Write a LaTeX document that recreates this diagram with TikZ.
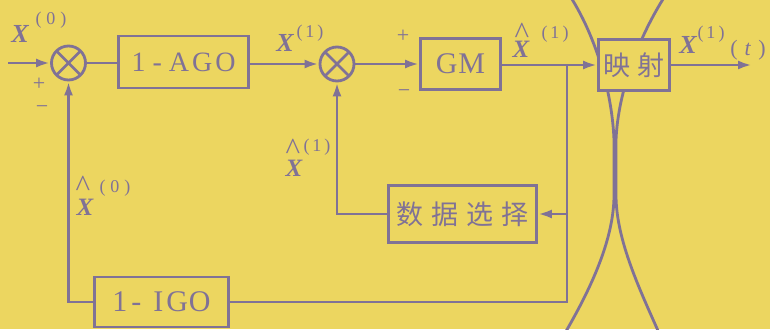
\documentclass[tikz,border=0pt]{standalone}
\usepackage{fontspec}
\setmainfont{Liberation Serif}
\newfontfamily\cjk{Noto Sans CJK SC}
\usetikzlibrary{arrows.meta}
\definecolor{bg}{RGB}{236,214,96}
\definecolor{ink}{RGB}{128,114,150}
\newcommand{\fX}{\fontsize{26}{26}\selectfont\bfseries\itshape}
\newcommand{\fHX}{\fontsize{25}{25}\selectfont\bfseries\itshape}
\newcommand{\fS}{\fontsize{18}{18}\selectfont}
\newcommand{\fH}{\fontsize{31}{31}\selectfont}
\newcommand{\fSign}{\fontsize{22}{22}\selectfont}
\begin{document}
\begin{tikzpicture}[x=1pt,y=-1pt,
  ln/.style={draw=ink,line width=2.8pt},
  arr/.style={ln,-{Latex[length=14pt,width=9pt]}},
  blk/.style={ln,fill=bg,rectangle,inner sep=0pt,text=ink},
  sumn/.style={ln,circle,fill=bg,minimum size=34pt,inner sep=0pt,
    path picture={\draw[ink,line width=2.6pt]
      (path picture bounding box.north west)--(path picture bounding box.south east)
      (path picture bounding box.north east)--(path picture bounding box.south west);}},
  lab/.style={text=ink,inner sep=0pt}]
\useasboundingbox (0,0) rectangle (770,329);
\fill[bg] (0,0) rectangle (770,329);
% hourglass curves behind the mapping block
\draw[ln] (570,-4) .. controls (595,35) and (612,90) .. (614,140) -- (614,195)
          .. controls (614,240) and (590,290) .. (565,333);
\draw[ln] (665,-4) .. controls (640,35) and (618,90) .. (616,140) -- (616,195)
          .. controls (616,240) and (640,290) .. (659,333);
% blocks
\node[sumn] (s1) at (68.5,63) {};
\node[blk,minimum width=130pt,minimum height=52pt,font=\fontsize{28}{28}\selectfont]
  (ago) at (183.5,62) {1\kern7pt-\kern7pt A\kern3pt G\kern3pt O};
\node[sumn] (s2) at (337,64) {};
\node[blk,minimum width=80pt,minimum height=51pt,font=\fontsize{30}{30}\selectfont]
  (gm) at (460.5,64) {G\kern1pt M};
\node[blk,minimum width=71pt,minimum height=51pt,font=\cjk\fontsize{27}{27}\selectfont]
  (map) at (634,65) {映\kern7pt 射};
\node[blk,minimum width=148pt,minimum height=57pt,font=\cjk\fontsize{27}{27}\selectfont]
  (ds) at (462.5,214) {数\kern8pt 据\kern8pt 选\kern8pt 择};
\node[blk,minimum width=134pt,minimum height=50pt,font=\fontsize{30}{30}\selectfont]
  (igo) at (161.5,302) {1\kern4pt-\kern12pt I\kern3pt G\kern1pt O};
% connectors
\coordinate (in) at (8,63);
\coordinate (out) at (752,65);
\coordinate (br) at (567,65);
\draw[arr] (in) -- (s1.west);
\draw[ln] (s1.east) -- (s1.east -| ago.west);
\draw[arr] (ago.east |- s2.west) -- (s2.west);
\draw[arr] (s2.east) -- (s2.east -| gm.west);
\draw[arr] (gm.east |- map.west) -- (map.west);
\draw[arr] (map.east) -- (out);
\draw[ln] (br) |- (igo.east);
\draw[arr] (br |- ds.east) -- (ds.east);
\draw[arr] (ds.west) -| (s2.south);
\draw[arr] (igo.west) -| (s1.south);
% labels
\node[lab,font=\fX] (x0) at (20,34) {X};
\node[lab,font=\fS] (x0s) at (51,20) {(\kern5pt0\kern5pt)};
\node[lab,font=\fSign] (p1) at (39,84) {+};
\node[lab,font=\fSign] (m1) at (42,110) {−};
\node[lab,font=\fX] (x1) at (285,43) {X};
\node[lab,font=\fS] (x1s) at (310,33) {(\kern3pt1\kern3pt)};
\node[lab,font=\fSign] (p2) at (403,36) {+};
\node[lab,font=\fSign] (m2) at (404,94) {−};
\node[lab,font=\fH] (h1) at (522,33) {\textasciicircum};
\node[lab,font=\fHX] (xh1) at (521,49) {X};
\node[lab,font=\fS] (xh1s) at (555,34) {(\kern3pt1\kern3pt)};
\node[lab,font=\fX] (xt) at (688,45) {X};
\node[lab,font=\fS] (xts) at (711,34) {(\kern3pt1\kern3pt)};
\node[lab,font=\fontsize{22}{22}\selectfont] (xtt) at (748,50) {(\kern7pt\textit{t}\kern7pt)};
\node[lab,font=\fH] (h2) at (293,149) {\textasciicircum};
\node[lab,font=\fHX] (xh2) at (294,168) {X};
\node[lab,font=\fS] (xh2s) at (317,147) {(\kern3pt1\kern3pt)};
\node[lab,font=\fH] (h3) at (83,186) {\textasciicircum};
\node[lab,font=\fHX] (xh3) at (85,207) {X};
\node[lab,font=\fS] (xh3s) at (115,188) {(\kern5pt0\kern5pt)};
\end{tikzpicture}
\end{document}
